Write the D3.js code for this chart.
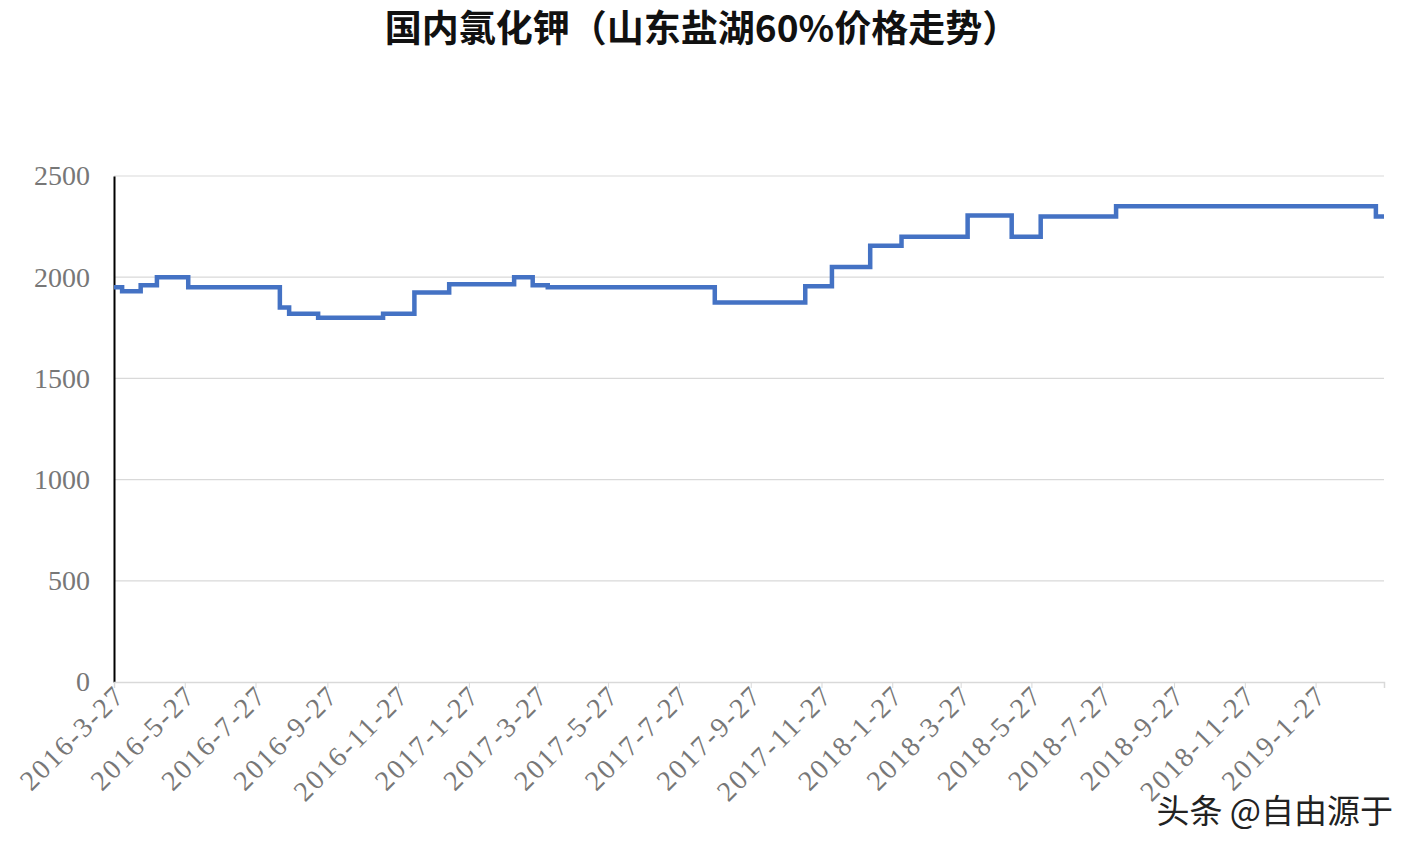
<!DOCTYPE html>
<html><head><meta charset="utf-8">
<script src="https://cdn.jsdelivr.net/npm/d3@7"></script>
<style>body{margin:0;background:#fff}</style></head>
<body><svg id="c" width="1419" height="854"></svg>
<script>
const dates = ["2016-3-27","2016-4-3","2016-4-19","2016-5-3","2016-5-30","2016-8-17","2016-8-25","2016-9-19","2016-11-14","2016-12-11","2017-1-10","2017-3-7","2017-3-23","2017-4-5","2017-8-27","2017-11-13","2017-12-6","2018-1-8","2018-2-4","2018-4-2","2018-5-10","2018-6-4","2018-8-8","2019-3-20","2019-3-27"];
const prices = [1950,1930,1960,2000,1950,1850,1820,1800,1820,1925,1965,2000,1960,1950,1875,1955,2050,2155,2200,2305,2200,2300,2350,2300,2300];
const tickLabels = ["2016-3-27","2016-5-27","2016-7-27","2016-9-27","2016-11-27","2017-1-27","2017-3-27","2017-5-27","2017-7-27","2017-9-27","2017-11-27","2018-1-27","2018-3-27","2018-5-27","2018-7-27","2018-9-27","2018-11-27","2019-1-27"];
const yTicks = [0,500,1000,1500,2000,2500];

const parse = d3.timeParse("%Y-%m-%d");
const data = dates.map((d,i)=>({d:parse(d),v:prices[i]}));
const svg = d3.select("#c");
const x = d3.scaleTime().domain([parse("2016-3-27"),parse("2019-3-27")]).range([114,1384]);
const y = d3.scaleLinear().domain([0,2500]).range([682,176]);

svg.append("text").attr("x",702).attr("y",42).attr("text-anchor","middle")
  .attr("font-family","Noto Sans CJK SC").attr("font-weight","bold").attr("font-size",37).attr("fill","#111")
  .text("国内氯化钾（山东盐湖60%价格走势）");

svg.append("g").selectAll("line").data(yTicks.filter(t=>t>0)).join("line")
  .attr("x1",114).attr("x2",1384).attr("y1",d=>y(d)).attr("y2",d=>y(d))
  .attr("stroke","#d9d9d9").attr("stroke-width",1.2);

const ya = svg.append("g").attr("transform","translate(114,0)")
  .call(d3.axisLeft(y).tickValues(yTicks).tickFormat(d3.format("d")).tickSize(0).tickPadding(24));
ya.select(".domain").attr("stroke","#000").attr("stroke-width",2);
ya.selectAll("text").attr("font-family","Liberation Serif").attr("font-size",28).attr("fill","#777");

const xa = svg.append("g").attr("transform","translate(0,682)")
  .call(d3.axisBottom(x).tickValues(tickLabels.map(parse)).tickSize(6).tickFormat(d3.timeFormat("%Y-%-m-%-d")));
xa.select(".domain").attr("stroke","#d9d9d9").attr("stroke-width",1.5);
xa.selectAll(".tick line").attr("stroke","#d9d9d9");
xa.selectAll("text").attr("font-family","Liberation Serif").attr("font-size",28).attr("fill","#777")
  .attr("letter-spacing","2px")
  .attr("text-anchor","end").attr("dx","-2").attr("dy","10").attr("transform","rotate(-45)");

svg.append("path").datum(data)
  .attr("d",d3.line().x(d=>x(d.d)).y(d=>y(d.v)).curve(d3.curveStepAfter))
  .attr("fill","none").attr("stroke","#4472c4").attr("stroke-width",4.5);

svg.append("text").attr("x",1393).attr("y",823).attr("text-anchor","end")
  .attr("font-family","Noto Sans CJK SC").attr("font-size",33).attr("fill","#222")
  .text("头条 @自由源于");
</script></body></html>
